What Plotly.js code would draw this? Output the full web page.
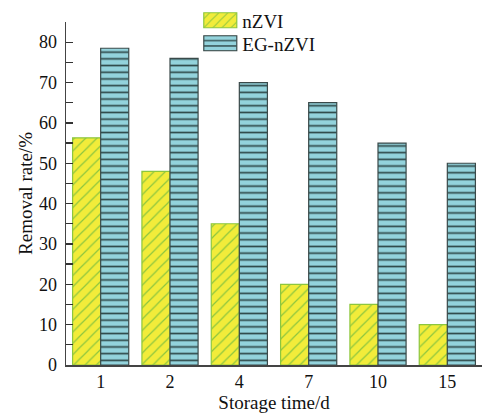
<!DOCTYPE html>
<html><head><meta charset="utf-8">
<script src="https://cdn.plot.ly/plotly-3.0.1.min.js"></script>
<style>html,body{margin:0;padding:0;background:#fff}#c{width:482px;height:414px}</style>
</head><body><div id="c"></div>
<script>
const categories = ["1","2","4","7","10","15"];
const nZVI = [56.3, 48, 35, 20, 15, 10];
const EGnZVI = [78.5, 76, 70, 65, 55, 50];
const seriesNames = ["nZVI","EG-nZVI"];

const fam = "Liberation Serif, Times New Roman, serif";
const traces = [
  {type:"bar", name:seriesNames[0], x:categories, y:nZVI,
   marker:{color:"#f2ec3a", line:{color:"#8cc63f", width:1.2},
     pattern:{shape:"/", fgcolor:"#8cc63f", bgcolor:"#f2ec3a", size:8, solidity:0.15}}},
  {type:"bar", name:seriesNames[1], x:categories, y:EGnZVI,
   marker:{color:"#93d3dc", line:{color:"#3a4a4a", width:1.2},
     pattern:{shape:"-", fgcolor:"#2e4848", bgcolor:"#93d3dc", size:6.7, solidity:0.25}}}
];
const layout = {
  width:482, height:414,
  margin:{l:66, r:0, t:22, b:49},
  paper_bgcolor:"#fff", plot_bgcolor:"#fff",
  font:{family:fam, size:18, color:"#111"},
  barmode:"group", bargap:0.19, bargroupgap:0,
  showlegend:true,
  legend:{x:0.318, y:1.06, xanchor:"left", yanchor:"top", bgcolor:"rgba(0,0,0,0)",
    font:{family:fam, size:19, color:"#111"}, itemwidth:34},
  xaxis:{type:"category", showline:true, linecolor:"#444", linewidth:1.5, ticks:"",
    showgrid:false, zeroline:false, tickfont:{family:fam, size:18},
    title:{text:"Storage time/d", font:{family:fam, size:19}, standoff:4}},
  yaxis:{range:[0,85], showline:true, linecolor:"#444", linewidth:1.5,
    ticks:"inside", ticklen:7, tickwidth:1.3, tickcolor:"#333", dtick:10, tick0:0,
    ticklabelstandoff:4,
    minor:{ticks:"inside", ticklen:7, dtick:5, tickcolor:"#333", tickwidth:1.3},
    showgrid:false, zeroline:false, tickfont:{family:fam, size:18},
    title:{text:"Removal rate/%", font:{family:fam, size:19}, standoff:1}}
};
Plotly.newPlot("c", traces, layout, {displayModeBar:false, staticPlot:true}).then(function(gd){
  const items = gd.querySelectorAll(".legend .traces");
  let y0 = null;
  items.forEach(function(g, i){
    const t = g.getAttribute("transform") || "";
    const m = t.match(/translate\(([-\d.]+),\s*([-\d.]+)\)/);
    if(m){
      const x = parseFloat(m[1]), y = parseFloat(m[2]);
      if(y0 === null) y0 = y;
      g.setAttribute("transform", "translate(" + x + "," + (y0 + i*23) + ")");
    }
    g.querySelectorAll(".legendpoints path").forEach(function(p){
      p.setAttribute("d", "M16.5,7.5H-16.5V-7.5H16.5Z");
    });
  });
});
</script></body></html>
